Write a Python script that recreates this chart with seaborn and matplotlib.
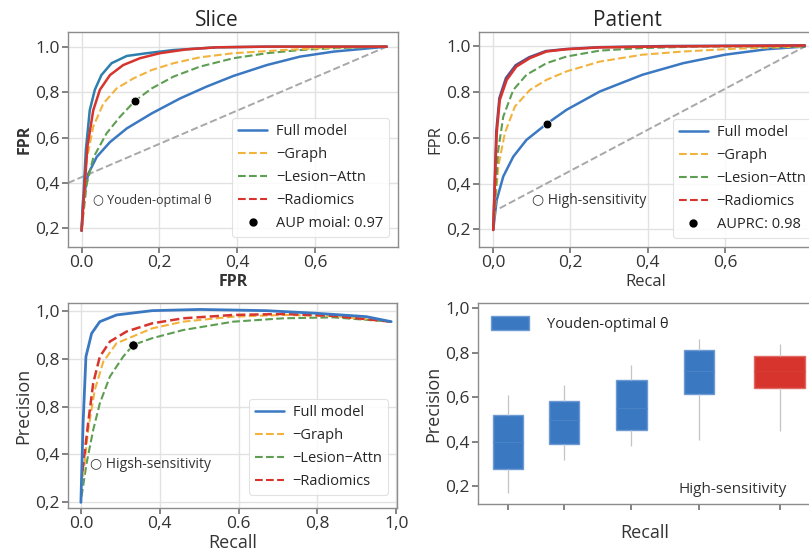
import seaborn as sns
import matplotlib.pyplot as plt
from matplotlib.lines import Line2D
from matplotlib.patches import Patch
import pandas as pd

# ---- Slice ROC (top left)
sl_full_x = [0, 0.004, 0.017, 0.039, 0.073, 0.116, 0.18, 0.253, 0.321, 0.39, 0.476, 0.561, 0.647, 0.784]
sl_full_y = [0.19, 0.325, 0.44, 0.515, 0.58, 0.64, 0.706, 0.772, 0.824, 0.871, 0.919, 0.956, 0.978, 1.0]
sl_full2_x = [0, 0.011, 0.021, 0.034, 0.051, 0.077, 0.116, 0.167, 0.236, 0.347, 0.476, 0.784]
sl_full2_y = [0.19, 0.545, 0.72, 0.81, 0.875, 0.927, 0.959, 0.971, 0.985, 0.997, 1.0, 1.0]
sl_graph_x = [0, 0.013, 0.03, 0.056, 0.09, 0.133, 0.18, 0.236, 0.304, 0.39, 0.519, 0.647, 0.784]
sl_graph_y = [0.19, 0.50, 0.648, 0.75, 0.816, 0.86, 0.897, 0.927, 0.953, 0.971, 0.985, 0.996, 1.0]
sl_lesion_x = [0, 0.013, 0.03, 0.064, 0.099, 0.137, 0.18, 0.236, 0.304, 0.39, 0.476, 0.561, 0.647, 0.784]
sl_lesion_y = [0.19, 0.394, 0.511, 0.618, 0.692, 0.761, 0.816, 0.868, 0.912, 0.949, 0.971, 0.985, 0.993, 1.0]
sl_radio_x = [0, 0.015, 0.03, 0.047, 0.073, 0.107, 0.15, 0.201, 0.27, 0.347, 0.476, 0.784]
sl_radio_y = [0.19, 0.56, 0.72, 0.81, 0.875, 0.919, 0.949, 0.971, 0.988, 0.997, 1.0, 1.0]
sl_chance_x = [-0.035, 0.784]
sl_chance_y = [0.40, 1.0]
sl_dot = (0.137, 0.761)

# ---- Patient ROC (top right)
pt_full_x = [0, 0.009, 0.026, 0.052, 0.086, 0.138, 0.19, 0.276, 0.386, 0.492, 0.6, 0.708, 0.807]
pt_full_y = [0.197, 0.328, 0.431, 0.518, 0.591, 0.661, 0.723, 0.803, 0.876, 0.927, 0.964, 0.988, 1.0]
pt_full2_x = [0, 0.008, 0.016, 0.033, 0.058, 0.093, 0.136, 0.19, 0.276, 0.45, 0.807]
pt_full2_y = [0.197, 0.63, 0.775, 0.862, 0.918, 0.953, 0.98, 0.989, 0.997, 1.002, 1.005]
pt_graph_x = [0, 0.013, 0.03, 0.056, 0.095, 0.138, 0.19, 0.276, 0.386, 0.492, 0.622, 0.807]
pt_graph_y = [0.197, 0.474, 0.62, 0.737, 0.81, 0.854, 0.891, 0.934, 0.964, 0.978, 0.99, 1.0]
pt_lesion_x = [0, 0.013, 0.026, 0.052, 0.086, 0.138, 0.19, 0.276, 0.386, 0.535, 0.807]
pt_lesion_y = [0.197, 0.547, 0.693, 0.81, 0.876, 0.927, 0.956, 0.982, 0.993, 1.0, 1.0]
pt_radio_x = [0, 0.009, 0.017, 0.035, 0.06, 0.095, 0.138, 0.19, 0.276, 0.45, 0.807]
pt_radio_y = [0.197, 0.62, 0.766, 0.854, 0.912, 0.949, 0.978, 0.988, 0.996, 1.0, 1.004]
pt_chance_x = [0.017, 0.807]
pt_chance_y = [0.292, 1.0]
pt_dot = (0.138, 0.661)

# ---- Precision-recall (bottom left)
pr_full_x = [0, 0.007, 0.016, 0.034, 0.06, 0.113, 0.226, 0.377, 0.588, 0.747, 0.905, 0.984]
pr_full_y = [0.2, 0.53, 0.808, 0.905, 0.954, 0.982, 1.0, 1.005, 1.0, 0.989, 0.975, 0.954]
pr_graph_x = [0.007, 0.023, 0.044, 0.071, 0.113, 0.226, 0.324, 0.483, 0.641, 0.8, 0.984]
pr_graph_y = [0.307, 0.502, 0.669, 0.787, 0.864, 0.926, 0.954, 0.975, 0.982, 0.978, 0.954]
pr_lesion_x = [0.002, 0.018, 0.039, 0.06, 0.092, 0.134, 0.166, 0.226, 0.324, 0.483, 0.641, 0.8, 0.984]
pr_lesion_y = [0.224, 0.363, 0.502, 0.613, 0.725, 0.808, 0.857, 0.885, 0.919, 0.954, 0.968, 0.972, 0.954]
pr_radio_x = [0.005, 0.023, 0.039, 0.06, 0.092, 0.145, 0.226, 0.324, 0.483, 0.641, 0.8, 0.984]
pr_radio_y = [0.33, 0.53, 0.697, 0.808, 0.871, 0.913, 0.947, 0.968, 0.982, 0.986, 0.978, 0.954]
pr_dot = (0.166, 0.857)

# ---- Precision boxes (bottom right): whisker low, q1, median, q3, whisker high
box_x = [0, 1, 2.2, 3.4]
box_lo = [0.17, 0.32, 0.38, 0.41]
box_q1 = [0.28, 0.39, 0.455, 0.615]
box_med = [0.40, 0.50, 0.55, 0.72]
box_q3 = [0.52, 0.585, 0.68, 0.815]
box_hi = [0.61, 0.655, 0.745, 0.86]
red_x = [4.85]
red_stats = [0.45, 0.64, 0.72, 0.785, 0.84]

BLUE = "#3b78c2"
BLUE2 = "#2d7fae"
ORANGE = "#f2b33d"
GREEN = "#5e9e52"
RED = "#d7342e"
GREY = "#a8a8a8"
TXT = "#333333"

sns.set_theme(style="whitegrid", rc={
    "axes.edgecolor": "0.55", "grid.color": "#e2e2e2", "axes.linewidth": 1.0,
    "xtick.bottom": True, "ytick.left": True, "xtick.major.size": 4,
    "ytick.major.size": 4, "xtick.color": "0.45", "ytick.color": "0.45",
    "xtick.labelcolor": TXT, "ytick.labelcolor": TXT, "axes.labelcolor": TXT,
})
plt.rcParams["font.family"] = ["Open Sans", "DejaVu Sans"]


def curve(ax, xs, ys, color, ls="-", lw=1.8):
    sns.lineplot(x=xs, y=ys, ax=ax, color=color, linestyle=ls, linewidth=lw,
                 sort=False, estimator=None)


def roc_legend(ax, last_label, **kw):
    handles = [
        Line2D([], [], color=BLUE, lw=1.8, label="Full model"),
        Line2D([], [], color=ORANGE, lw=1.5, ls="--", label="\u2212Graph"),
        Line2D([], [], color=GREEN, lw=1.5, ls="--", label="\u2212Lesion\u2212Attn"),
        Line2D([], [], color=RED, lw=1.5, ls="--", label="\u2212Radiomics"),
    ]
    if last_label:
        handles.append(Line2D([], [], color="black", marker="o", ls="none",
                              markersize=5, label=last_label))
    leg = ax.legend(handles=handles, fontsize=10.5, frameon=True, framealpha=0.85,
                    edgecolor="#dddddd", borderpad=0.4, labelspacing=0.55,
                    handlelength=2.0, handletextpad=0.6, **kw)
    leg.get_frame().set_linewidth(0.8)
    return leg


fig = plt.figure(figsize=(8.09, 5.59), dpi=100)

# ---------------- top left: Slice
ax1 = fig.add_axes([0.084, 0.558, 0.408, 0.385])
curve(ax1, sl_chance_x, sl_chance_y, GREY, "--", 1.4)
curve(ax1, sl_full_x, sl_full_y, BLUE)
curve(ax1, sl_lesion_x, sl_lesion_y, GREEN, "--", 1.5)
curve(ax1, sl_graph_x, sl_graph_y, ORANGE, "--", 1.5)
curve(ax1, sl_full2_x, sl_full2_y, BLUE2)
curve(ax1, sl_radio_x, sl_radio_y, RED)
sns.scatterplot(x=[sl_dot[0]], y=[sl_dot[1]], ax=ax1, color="black", s=40, zorder=5)
ax1.text(0.03, 0.325, "\u25cb Youden-optimal \u03b8", fontsize=9, color=TXT, va="center")
ax1.set_xlim(-0.035, 0.813)
ax1.set_ylim(0.118, 1.065)
ax1.set_xticks([0, 0.2, 0.4, 0.6], ["0.0", "0,2", "0,4", "0,6"])
ax1.set_yticks([0.2, 0.4, 0.6, 0.8, 1.0], ["0,2", "0,4", "0,6", "0,8", "1.0"])
ax1.tick_params(labelsize=12.5, pad=2)
ax1.set_title("Slice", fontsize=15, x=0.45, pad=4)
ax1.set_xlabel("FPR", fontsize=11.5, fontweight="bold", labelpad=2)
ax1.set_ylabel("FPR", fontsize=11.5, fontweight="bold", labelpad=2)
roc_legend(ax1, "AUP moial: 0.97", loc="lower right", bbox_to_anchor=(0.995, 0.015))

# ---------------- top right: Patient
ax2 = fig.add_axes([0.592, 0.558, 0.412, 0.385])
curve(ax2, pt_chance_x, pt_chance_y, GREY, "--", 1.4)
curve(ax2, pt_full_x, pt_full_y, BLUE)
curve(ax2, pt_graph_x, pt_graph_y, ORANGE, "--", 1.5)
curve(ax2, pt_lesion_x, pt_lesion_y, GREEN, "--", 1.5)
curve(ax2, pt_full2_x, pt_full2_y, "#5a4f8a")
curve(ax2, pt_radio_x, pt_radio_y, RED)
sns.scatterplot(x=[pt_dot[0]], y=[pt_dot[1]], ax=ax2, color="black", s=40, zorder=5)
ax2.text(0.1, 0.328, "\u25cb High-sensitivity", fontsize=10, color=TXT, va="center")
ax2.set_xlim(-0.037, 0.826)
ax2.set_ylim(0.122, 1.064)
ax2.set_xticks([0, 0.2, 0.4, 0.6], ["0,0", "0,2", "0,4", "0,6"])
ax2.set_yticks([0.2, 0.4, 0.6, 0.8, 1.0], ["0,2", "0,4", "0.6", "0.8", "1.0"])
ax2.tick_params(labelsize=12.5, pad=2)
ax2.set_title("Patient", fontsize=15, x=0.447, pad=4)
ax2.set_xlabel("Recal", fontsize=12, labelpad=2)
ax2.set_ylabel("FPR", fontsize=12, labelpad=2)
roc_legend(ax2, "AUPRC: 0.98", loc="lower left", bbox_to_anchor=(0.56, 0.01))

# ---------------- bottom left: precision-recall
ax3 = fig.add_axes([0.084, 0.091, 0.407, 0.367])
curve(ax3, pr_lesion_x, pr_lesion_y, GREEN, "--", 1.5)
curve(ax3, pr_graph_x, pr_graph_y, ORANGE, "--", 1.5)
curve(ax3, pr_radio_x, pr_radio_y, RED, "--", 1.8)
curve(ax3, pr_full_x, pr_full_y, BLUE, "-", 2.0)
sns.scatterplot(x=[pr_dot[0]], y=[pr_dot[1]], ax=ax3, color="black", s=45, zorder=5)
ax3.text(0.03, 0.356, "\u25cb Higsh-sensitivity", fontsize=10, color=TXT, va="center")
ax3.set_xlim(-0.041, 1.003)
ax3.set_ylim(0.176, 1.032)
ax3.set_xticks([0, 0.25, 0.5, 0.75, 1.0], ["0.0", "0,4", "0.6", "0,8", "1,0"])
ax3.set_yticks([0.2, 0.4, 0.6, 0.8, 1.0], ["0,2", "0,4", "0,8", "0,8", "1,0"])
ax3.tick_params(labelsize=12.5, pad=2)
ax3.set_xlabel("Recall", fontsize=13, labelpad=1)
ax3.set_ylabel("Precision", fontsize=13, labelpad=2)
roc_legend(ax3, None, loc="lower right", bbox_to_anchor=(0.995, 0.03))

# ---------------- bottom right: precision boxes
ax4 = fig.add_axes([0.591, 0.098, 0.413, 0.36])
ax4.grid(False)
blue_df = pd.DataFrame({
    "recall": [x for x in box_x for _ in range(5)],
    "precision": [v for vals in zip(box_lo, box_q1, box_med, box_q3, box_hi) for v in vals],
})
red_df = pd.DataFrame({"recall": red_x * 5, "precision": red_stats})
box_kw = dict(x="recall", y="precision", orient="x", native_scale=True, whis=10,
              saturation=1, showcaps=False, linewidth=1.0, ax=ax4,
              whiskerprops=dict(color="#c4c4c4", linewidth=0.9))
sns.boxplot(data=blue_df, color=BLUE, width=0.54, linecolor="#6d9ad3",
            medianprops=dict(color="#4a82c6", linewidth=0.8), **box_kw)
sns.boxplot(data=red_df, color=RED, width=0.91, linecolor="#e06a63",
            medianprops=dict(color="#d63d35", linewidth=0.8), **box_kw)
ax4.set_xlim(-0.54, 5.43)
ax4.set_ylim(0.12, 1.024)
ax4.set_xticks(box_x + red_x, [""] * 5)
ax4.set_yticks([0.2, 0.4, 0.6, 0.8, 1.0], ["0,2", "0,4", "0,6", "0,8", "1,0"])
ax4.tick_params(labelsize=12.5, pad=2)
ax4.set_xlabel("Recall", fontsize=13, labelpad=8)
ax4.set_ylabel("Precision", fontsize=13, labelpad=2)
ax4.legend(handles=[Patch(facecolor=BLUE, edgecolor="#6d9ad3", label="Youden-optimal \u03b8")],
           loc="upper left", frameon=False, fontsize=10.5, handlelength=2.6,
           handleheight=1.1, handletextpad=1.2, bbox_to_anchor=(0.0, 1.0))
ax4.text(0.6, 0.075, "High-sensitivity", transform=ax4.transAxes, fontsize=11,
         color=TXT, va="center")

fig.savefig("out.png", dpi=100)
